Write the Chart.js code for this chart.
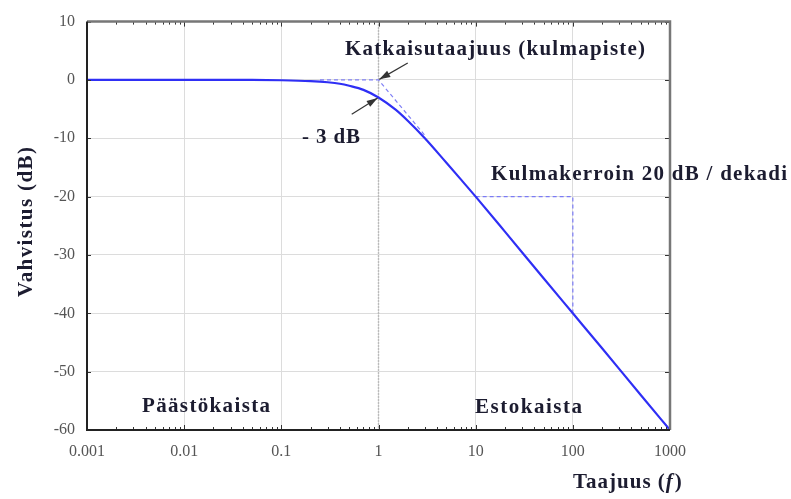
<!DOCTYPE html>
<html>
<head>
<meta charset="utf-8">
<script src="https://cdn.jsdelivr.net/npm/chart.js@4.4.1/dist/chart.umd.min.js"></script>
<style>
  html, body { margin: 0; padding: 0; background: #fff; }
  #wrap { width: 791px; height: 499px; }
</style>
</head>
<body>
<div id="wrap"><canvas id="bode" width="791" height="499"></canvas></div>
<script>
// Vahvistuskäyrä (luettu kuvasta)
const freq = [0.001, 0.01, 0.05, 0.1, 0.2, 0.3, 0.4, 0.5, 0.7, 1, 1.5, 2, 3, 5, 7, 10, 20, 50, 100, 200, 500, 1000];
const gain = [0, 0, 0, -0.05, -0.2, -0.4, -0.65, -1, -1.7, -3, -5.1, -7, -10, -14.2, -17, -20, -26, -34, -40, -46, -54, -60];

// Asymptootit kulmapisteessä
const cornerF = [0.25, 1, 3];
const cornerDb = [0, 0, -9.5];

// Kulmakerroin-kolmio
const slopeF = [10, 100, 100];
const slopeDb = [-20, -20, -40];

// Katkaisutaajuuden pystyviiva
const cutF = [1, 1];
const cutDb = [10, -60];

// Akselien merkinnät
const xTicks = [0.001, 0.01, 0.1, 1, 10, 100, 1000];
const xTickLabels = ['0.001', '0.01', '0.1', '1', '10', '100', '1000'];
const yTicks = [10, 0, -10, -20, -30, -40, -50, -60];

// Tekstit kuvassa: [teksti, f, dB, leveys]
const notes = [
  ['Katkaisutaajuus (kulmapiste)', 0.452, 4.22, 300],
  ['- 3 dB', 0.163, -10.73, 58],
  ['Kulmakerroin 20 dB / dekadi', 14.4, -17.18, 296],
  ['Päästökaista', 0.00368, -56.94, 128],
  ['Estokaista', 9.84, -57.1, 107],
];

// Nuolet: [häntä f, häntä dB, kärki f, kärki dB]
const arrows = [
  [2.0, 2.9, 1.02, 0.1],
  [0.53, -5.9, 0.98, -3.1],
];

const toPts = (xs, ys) => xs.map((x, i) => ({ x: x, y: ys[i] }));

const TXT = '#1c1c30';
const SERIF = '"Liberation Serif", "Times New Roman", serif';

function spacedText(ctx, str, x, y, width) {
  ctx.letterSpacing = '0px';
  const natural = ctx.measureText(str).width;
  if (width) {
    const ls = (width - natural) / Math.max(1, str.length - 1);
    ctx.letterSpacing = ls.toFixed(2) + 'px';
  }
  ctx.fillText(str, x, y);
  ctx.letterSpacing = '0px';
}

const decorPlugin = {
  id: 'decor',
  afterDatasetsDraw(chart) {
    const ctx = chart.ctx;
    const a = chart.chartArea;
    const xs = chart.scales.x;
    const ys = chart.scales.y;
    ctx.save();

    // pienet jakoviivat ylä- ja alareunassa
    ctx.strokeStyle = '#333';
    ctx.lineWidth = 1;
    for (let d = 0.001; d < 1000; d *= 10) {
      for (let m = 2; m <= 9; m++) {
        const px = Math.round(xs.getPixelForValue(d * m)) + 0.5;
        ctx.beginPath();
        ctx.moveTo(px, a.bottom); ctx.lineTo(px, a.bottom - 3);
        ctx.moveTo(px, a.top); ctx.lineTo(px, a.top + 3);
        ctx.stroke();
      }
    }
    xTicks.forEach((v) => {
      const px = Math.round(xs.getPixelForValue(v)) + 0.5;
      ctx.beginPath();
      ctx.moveTo(px, a.bottom); ctx.lineTo(px, a.bottom - 5);
      ctx.moveTo(px, a.top); ctx.lineTo(px, a.top + 5);
      ctx.stroke();
    });
    yTicks.forEach((v) => {
      const py = Math.round(ys.getPixelForValue(v)) + 0.5;
      ctx.beginPath();
      ctx.moveTo(a.left, py); ctx.lineTo(a.left + 4, py);
      ctx.moveTo(a.right, py); ctx.lineTo(a.right - 5, py);
      ctx.stroke();
    });

    // kehys
    ctx.lineWidth = 2.5;
    ctx.strokeStyle = '#777';
    ctx.beginPath();
    ctx.moveTo(a.left, a.top); ctx.lineTo(a.right, a.top); ctx.lineTo(a.right, a.bottom);
    ctx.stroke();
    ctx.lineWidth = 2;
    ctx.strokeStyle = '#222';
    ctx.beginPath();
    ctx.moveTo(a.left, a.top); ctx.lineTo(a.left, a.bottom); ctx.lineTo(a.right, a.bottom);
    ctx.stroke();

    // nuolet
    ctx.strokeStyle = '#333';
    ctx.fillStyle = '#333';
    ctx.lineWidth = 1.2;
    arrows.forEach(([f0, d0, f1, d1]) => {
      const x0 = xs.getPixelForValue(f0), y0 = ys.getPixelForValue(d0);
      const x1 = xs.getPixelForValue(f1), y1 = ys.getPixelForValue(d1);
      const ang = Math.atan2(y1 - y0, x1 - x0);
      ctx.beginPath();
      ctx.moveTo(x0, y0); ctx.lineTo(x1, y1);
      ctx.stroke();
      ctx.beginPath();
      ctx.moveTo(x1, y1);
      ctx.lineTo(x1 - 11 * Math.cos(ang) + 3.5 * Math.sin(ang), y1 - 11 * Math.sin(ang) - 3.5 * Math.cos(ang));
      ctx.lineTo(x1 - 11 * Math.cos(ang) - 3.5 * Math.sin(ang), y1 - 11 * Math.sin(ang) + 3.5 * Math.cos(ang));
      ctx.closePath();
      ctx.fill();
    });

    // tekstit
    ctx.fillStyle = TXT;
    ctx.textBaseline = 'alphabetic';
    ctx.textAlign = 'left';
    ctx.font = 'bold 21px ' + SERIF;
    notes.forEach(([t, f, db, w]) => {
      spacedText(ctx, t, xs.getPixelForValue(f), ys.getPixelForValue(db), w);
    });

    // x-akselin otsikko, f kursiivilla
    ctx.font = 'bold 21px ' + SERIF;
    let tx = 573;
    const ty = 488;
    ctx.letterSpacing = '1px';
    ctx.fillText('Taajuus (', tx, ty);
    tx += ctx.measureText('Taajuus (').width;
    ctx.font = 'italic bold 21px ' + SERIF;
    ctx.fillText('f', tx, ty);
    tx += ctx.measureText('f').width + 1;
    ctx.font = 'bold 21px ' + SERIF;
    ctx.fillText(')', tx, ty);
    ctx.letterSpacing = '0px';

    // y-akselin otsikko
    ctx.save();
    ctx.translate(32, 297);
    ctx.rotate(-Math.PI / 2);
    spacedText(ctx, 'Vahvistus (dB)', 0, 0, 150);
    ctx.restore();

    ctx.restore();
  },
};

const ctx = document.getElementById('bode').getContext('2d');
new Chart(ctx, {
  type: 'scatter',
  data: {
    datasets: [
      {
        data: toPts(freq, gain),
        showLine: true,
        borderColor: '#2f2ff5',
        borderWidth: 2.2,
        pointRadius: 0,
        cubicInterpolationMode: 'monotone',
      },
      {
        data: toPts(cornerF, cornerDb),
        showLine: true,
        borderColor: '#8080f5',
        borderWidth: 1.2,
        borderDash: [4, 3],
        pointRadius: 0,
      },
      {
        data: toPts(slopeF, slopeDb),
        showLine: true,
        borderColor: '#7b7bf5',
        borderWidth: 1.2,
        borderDash: [4, 3],
        pointRadius: 0,
      },
      {
        data: toPts(cutF, cutDb),
        showLine: true,
        borderColor: '#999',
        borderWidth: 1.5,
        borderDash: [1, 2],
        pointRadius: 0,
      },
    ],
  },
  options: {
    responsive: false,
    devicePixelRatio: 1,
    animation: false,
    layout: { padding: { top: 18, right: 121, left: 0, bottom: 0 } },
    plugins: {
      legend: { display: false },
      tooltip: { enabled: false },
    },
    scales: {
      x: {
        type: 'logarithmic',
        min: 0.001,
        max: 1000,
        afterBuildTicks(scale) {
          scale.ticks = xTicks.map((v) => ({ value: v }));
        },
        afterFit(scale) {
          scale.height = 69;
        },
        grid: { color: '#dcdcdc', lineWidth: 1, drawTicks: false },
        border: { display: false },
        ticks: {
          padding: 12,
          maxRotation: 0,
          autoSkip: false,
          color: '#555',
          font: { family: SERIF, size: 16 },
          callback: (v) => {
            const i = xTicks.indexOf(v);
            return i >= 0 ? xTickLabels[i] : '';
          },
        },
      },
      y: {
        min: -60,
        max: 10,
        afterBuildTicks(scale) {
          scale.ticks = yTicks.map((v) => ({ value: v }));
        },
        afterFit(scale) {
          scale.width = 87;
        },
        grid: { color: '#dcdcdc', lineWidth: 1, drawTicks: false },
        border: { display: false },
        ticks: {
          padding: 12,
          color: '#555',
          font: { family: SERIF, size: 16 },
        },
      },
    },
  },
  plugins: [decorPlugin],
});
</script>
</body>
</html>
